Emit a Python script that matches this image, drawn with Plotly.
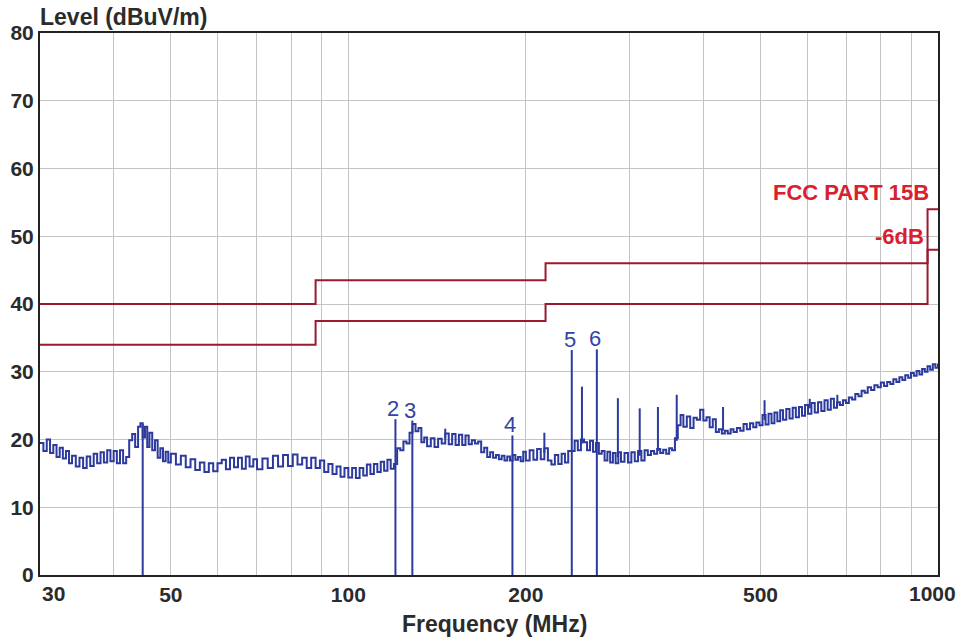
import math
import plotly.graph_objects as go

# ---------------- data ----------------
freq_mhz = [
    30.0, 30.4, 30.8, 31.2, 31.6, 32.0, 32.4, 32.8, 33.2, 33.6, 34.0, 34.5, 35.0, 35.5,
    36.0, 36.5, 37.0, 37.5, 38.0, 38.5, 39.0, 39.5, 40.0, 40.5, 41.0, 41.5, 42.0, 42.5,
    43.0, 43.5, 44.0, 44.4, 44.8, 45.2, 45.6, 46.0, 46.5, 47.0, 47.5, 48.0, 48.5, 49.0,
    49.5, 50.0, 51.0, 52.0, 53.0, 54.0, 55.0, 56.0, 57.0, 58.0, 59.0, 60.0, 61.0, 62.0,
    63.0, 64.0, 65.0, 66.0, 67.0, 68.0, 69.0, 70.0, 71.5, 73.0, 74.5, 76.0, 77.5, 79.0,
    80.5, 82.0, 83.5, 85.0, 86.5, 88.0, 89.5, 91.0, 92.5, 94.0, 95.5, 97.0, 98.5, 100.0,
    101.5, 103.0, 104.5, 106.0, 107.5, 109.0, 110.5, 112.0, 113.5, 115.0, 116.5, 118.0,
    119.5, 121.0, 122.5, 124.0, 125.5, 127.0, 128.5, 130.0, 131.5, 133.0, 134.5, 136.0,
    138.0, 140.0, 142.0, 144.0, 146.0, 148.0, 150.0, 152.0, 154.0, 156.0, 158.0, 160.0,
    162.0, 164.0, 166.0, 168.0, 170.0, 172.0, 174.0, 176.0, 178.0, 180.0, 182.0, 184.0,
    186.0, 188.0, 190.0, 192.0, 194.0, 196.0, 198.0, 200.0, 203.0, 206.0, 209.0, 212.0,
    215.0, 218.0, 221.0, 224.0, 227.0, 230.0, 233.0, 236.0, 239.0, 242.0, 245.0, 248.0,
    251.0, 254.0, 257.0, 260.0, 263.0, 266.0, 269.0, 272.0, 275.0, 278.0, 281.0, 284.0,
    287.0, 290.0, 294.0, 298.0, 302.0, 306.0, 310.0, 314.0, 318.0, 322.0, 326.0, 330.0,
    334.0, 338.0, 342.0, 346.0, 350.0, 354.0, 358.0, 362.0, 366.0, 370.0, 375.0, 380.0,
    385.0, 390.0, 395.0, 400.0, 405.0, 410.0, 415.0, 420.0, 425.0, 430.0, 435.0, 440.0,
    445.0, 450.0, 456.0, 462.0, 468.0, 474.0, 480.0, 486.0, 492.0, 498.0, 504.0, 510.0,
    516.0, 522.0, 528.0, 534.0, 540.0, 546.0, 553.0, 560.0, 567.0, 574.0, 581.0, 588.0,
    595.0, 602.0, 610.0, 618.0, 626.0, 634.0, 642.0, 650.0, 658.0, 666.0, 674.0, 682.0,
    690.0, 698.0, 706.0, 715.0, 724.0, 733.0, 742.0, 751.0, 760.0, 770.0, 780.0, 790.0,
    800.0, 810.0, 820.0, 830.0, 840.0, 850.0, 860.0, 870.0, 880.0, 890.0, 900.0, 910.0,
    920.0, 930.0, 940.0, 950.0, 960.0, 970.0, 980.0, 990.0, 1000.0,
]
level_dbuv = [
    19.5, 18.3, 20.0, 18.0, 19.2, 17.4, 18.8, 17.2, 18.3, 16.5, 17.6, 16.0, 17.3, 15.8,
    17.5, 16.1, 17.9, 16.5, 18.1, 16.6, 18.4, 16.8, 18.3, 16.5, 18.4, 16.5, 17.4, 19.9,
    20.8, 18.9, 21.9, 22.4, 20.3, 21.9, 18.9, 21.0, 18.4, 19.9, 17.3, 18.7, 16.8, 18.2,
    16.6, 17.9, 16.3, 17.6, 15.9, 17.1, 15.5, 16.6, 15.2, 16.5, 15.3, 16.5, 17.0, 15.6,
    17.3, 15.9, 17.3, 15.7, 17.5, 16.0, 17.1, 15.6, 17.2, 15.8, 17.6, 16.0, 17.7, 16.1,
    17.8, 16.3, 17.3, 15.8, 17.3, 15.8, 16.9, 15.2, 16.4, 14.9, 16.0, 14.5, 15.8, 14.4,
    15.8, 14.3, 15.8, 14.7, 16.3, 14.9, 16.4, 15.2, 16.7, 15.4, 17.0, 15.7,
    16.4, 18.7, 18.4, 19.7, 19.4, 21.0, 22.3, 21.2, 21.7, 19.6, 20.3, 19.0,
    20.2, 18.9, 20.1, 19.4, 20.9, 19.3, 20.8, 19.2, 20.7, 19.2, 20.6, 19.3,
    19.9, 19.4, 19.7, 18.1, 18.8, 17.4, 18.1, 17.3, 17.7, 17.1, 17.6, 16.9,
    17.5, 16.9, 17.7, 17.0, 17.4, 16.8, 18.2, 16.9, 18.4, 17.0, 18.6, 17.1,
    18.7, 16.9, 16.3, 17.7, 16.4, 17.9, 16.6, 18.3, 18.3, 19.8, 18.4, 20.0,
    19.6, 18.4, 19.8, 18.2, 19.5, 17.9, 18.3, 16.9, 18.2, 16.6, 18.0, 16.5,
    18.1, 16.7, 18.0, 16.6, 18.1, 16.8, 18.3, 16.9, 18.4, 17.7, 18.3, 17.9,
    18.6, 18.0, 18.5, 17.9, 18.7, 18.4, 20.2, 22.1, 23.6, 21.9, 23.4, 21.7,
    23.2, 22.9, 24.4, 22.8, 23.3, 21.8, 23.0, 21.1, 21.5, 20.9, 21.3, 20.9,
    21.5, 21.1, 21.7, 21.3, 22.3, 21.5, 22.4, 21.8, 22.5, 22.1, 23.6, 22.2,
    23.8, 22.4, 24.0, 22.7, 24.3, 22.9, 24.5, 23.1, 24.7, 23.3, 24.8, 23.5,
    25.1, 23.8, 25.4, 24.0, 25.5, 24.2, 25.8, 24.4, 26.0, 24.7, 25.5, 25.1,
    25.8, 25.4, 26.2, 25.9, 26.7, 26.4, 27.2, 26.9, 27.7, 27.3, 28.0, 27.7,
    28.4, 27.9, 28.5, 28.2, 28.9, 28.5, 29.2, 28.8, 29.5, 29.1, 29.8, 29.4,
    30.1, 29.6, 30.4, 30.0, 30.8, 30.3, 31.1, 30.6, 31.2,
]

# narrow spectral spikes: frequency, level of the trace beneath, peak level
spike_freq = [146.0, 215.0, 249.0, 286.5, 312.0, 335.0, 360.5, 432.0, 508.0, 606.0, 675.0]
spike_base = [20.2, 18.0, 19.4, 17.4, 17.6, 18.3, 19.8, 21.3, 22.9, 24.6, 25.0]
spike_peak = [21.6, 21.0, 27.8, 26.1, 24.6, 24.8, 26.6, 24.8, 25.8, 26.0, 26.6]

# measurement markers
marker_freq = [44.8, 120.2, 128.4, 189.8, 239.3, 263.9]
marker_level = [22.3, 23.0, 22.8, 20.6, 33.2, 33.3]
marker_label = ["", "2", "3", "4", "5", "6"]

# FCC Part 15B limit and limit - 6 dB
limit_freq = [30, 88, 88, 216, 216, 960, 960, 1000]
limit_level = [40, 40, 43.5, 43.5, 46, 46, 54, 54]
margin_level = [34, 34, 37.5, 37.5, 40, 40, 48, 48]

grid_freq = [30, 40, 50, 60, 70, 80, 90, 100, 200, 300, 400, 500, 600, 700, 800, 900, 1000]
grid_text = ["", "", "50", "", "", "", "", "100", "200", "", "", "500", "", "", "", "", ""]
edge_labels = ["30", "1000"]
y_ticks = [0, 10, 20, 30, 40, 50, 60, 70, 80]

# ---------------- figure ----------------
TRACE = "#2b3a9c"
LIMIT = "#9a1a2e"
TEXTRED = "#d8202e"
DARK = "#2b2b2b"
FONT = "Liberation Sans, Arial, sans-serif"

fig = go.Figure()

fig.add_trace(go.Scatter(x=limit_freq, y=limit_level, mode="lines",
                         line=dict(color=LIMIT, width=2), hoverinfo="skip"))
fig.add_trace(go.Scatter(x=limit_freq, y=margin_level, mode="lines",
                         line=dict(color=LIMIT, width=2), hoverinfo="skip"))

fig.add_trace(go.Scatter(x=freq_mhz, y=level_dbuv, mode="lines",
                         line=dict(color=TRACE, width=2, shape="hv")))

sx, sy = [], []
for f, b, p in zip(spike_freq, spike_base, spike_peak):
    sx += [f, f, None]
    sy += [b, p, None]
fig.add_trace(go.Scatter(x=sx, y=sy, mode="lines", line=dict(color=TRACE, width=2),
                         hoverinfo="skip"))

mx, my = [], []
for f, l in zip(marker_freq, marker_level):
    mx += [f, f, None]
    my += [0, l, None]
fig.add_trace(go.Scatter(x=mx, y=my, mode="lines", line=dict(color=TRACE, width=2),
                         hoverinfo="skip"))

for f, l, t in zip(marker_freq, marker_level, marker_label):
    if t:
        fig.add_annotation(x=math.log10(f), y=l, text=t, showarrow=False,
                           xanchor="center", yanchor="bottom", xshift=-2, yshift=-4,
                           font=dict(family=FONT, size=22, color="#3343a3"))

fig.add_annotation(x=1, y=56.4, xref="paper", text="FCC PART 15B", showarrow=False,
                   xanchor="right", yanchor="middle", xshift=-7,
                   font=dict(family=FONT, size=22, color=TEXTRED, weight="bold"))
fig.add_annotation(x=1, y=50.0, xref="paper", text="-6dB", showarrow=False,
                   xanchor="right", yanchor="middle", xshift=-12,
                   font=dict(family=FONT, size=22, color=TEXTRED, weight="bold"))

fig.add_annotation(x=0, y=1, xref="paper", yref="paper", text="Level (dBuV/m)",
                   showarrow=False, xanchor="left", yanchor="middle", yshift=16, xshift=-2,
                   font=dict(family=FONT, size=23, color=DARK, weight="bold"))
fig.add_annotation(x=0.5056, y=0, xref="paper", yref="paper", text="Frequency (MHz)",
                   showarrow=False, xanchor="center", yanchor="middle", yshift=-49,
                   font=dict(family=FONT, size=23, color=DARK, weight="bold"))
# end labels of the frequency axis sit inside the figure edges
fig.add_annotation(x=0, y=0, xref="paper", yref="paper", text=edge_labels[0],
                   showarrow=False, xanchor="left", yanchor="middle", yshift=-18,
                   font=dict(family=FONT, size=21, color=DARK, weight="bold"))
fig.add_annotation(x=1, y=0, xref="paper", yref="paper", text=edge_labels[1],
                   showarrow=False, xanchor="right", yanchor="middle", yshift=-18,
                   xshift=20,
                   font=dict(family=FONT, size=21, color=DARK, weight="bold"))

fig.update_layout(
    width=961, height=641,
    margin=dict(l=40, r=23, t=33, b=66),
    paper_bgcolor="white", plot_bgcolor="white",
    showlegend=False,
    font=dict(family=FONT, color=DARK),
    xaxis=dict(type="log", range=[math.log10(30), 3], tickmode="array",
               tickvals=grid_freq, ticktext=grid_text, automargin=False,
               showgrid=True, gridcolor="#c4c4c4", gridwidth=1,
               showline=True, linecolor="#222222", linewidth=2, mirror=True,
               ticks="",
               tickfont=dict(family=FONT, size=21, color=DARK, weight="bold"),
               zeroline=False),
    yaxis=dict(range=[0, 80], tickmode="array", tickvals=y_ticks, automargin=False,
               showgrid=True, gridcolor="#c4c4c4", gridwidth=1,
               showline=True, linecolor="#222222", linewidth=2, mirror=True,
               ticks="",
               tickfont=dict(family=FONT, size=21, color=DARK, weight="bold"),
               zeroline=False),
)

# remove the browser's default 8 px body margin so the figure fills the window exactly
fig.write_html("out.html", config={"displayModeBar": False},
               post_script="document.body.style.margin='0';")
